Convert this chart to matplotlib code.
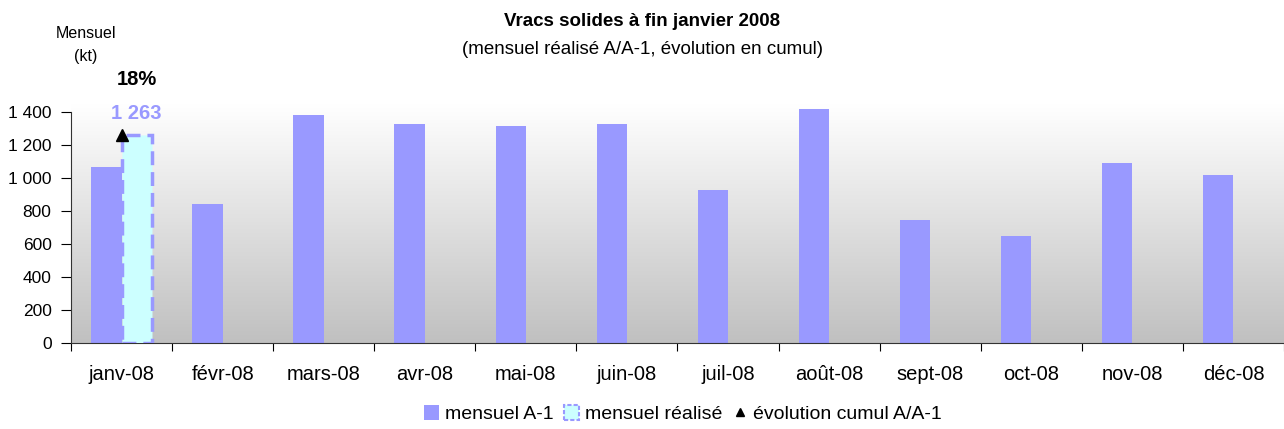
import matplotlib
matplotlib.use("Agg")
import matplotlib.pyplot as plt
import numpy as np
from matplotlib.patches import Patch
from matplotlib.lines import Line2D

plt.rcParams['font.family'] = ['Liberation Sans', 'DejaVu Sans']

months = ['janv-08', 'févr-08', 'mars-08', 'avr-08', 'mai-08', 'juin-08',
          'juil-08', 'août-08', 'sept-08', 'oct-08', 'nov-08', 'déc-08']
mensuel_a1 = [1067, 842, 1382, 1327, 1315, 1327, 927, 1418, 745, 648, 1091, 1018]
mensuel_realise = [1263]
evolution_cumul = ['18%']
yticks = [0, 200, 400, 600, 800, 1000, 1200, 1400]

blue = '#9999ff'
cyan = '#ccffff'

fig = plt.figure(figsize=(12.84, 4.29), dpi=100)
ax = fig.add_axes([71/1284, 86/429, (1284-71)/1284, 0.557])

x = np.arange(len(months))
w = 0.3
ax.set_xlim(-0.5, len(months) - 0.5)
ax.set_ylim(0, 1450)

# gradient background
grad = np.linspace(0, 1, 256).reshape(-1, 1)
cmap = matplotlib.colors.LinearSegmentedColormap.from_list('g', ['#c0c0c0', '#ffffff'])
ax.imshow(grad, extent=[-0.5, len(months) - 0.5, 0, 1450], origin='lower',
          aspect='auto', cmap=cmap, zorder=0)

ax.bar(x - w/2, mensuel_a1, width=w, color=blue, zorder=2)
xr = x[:len(mensuel_realise)]
ax.bar(xr + w/2, mensuel_realise, width=w, color=cyan, edgecolor=blue,
       linestyle=(0, (4, 2)), linewidth=2.5, zorder=3)
ax.plot(xr, mensuel_realise, marker='^', color='black', linestyle='none',
        markersize=8, zorder=4)

for xi, v in zip(xr, mensuel_realise):
    ax.text(xi + w/2, 1390, f"{v:,}".replace(',', ' '), ha='center', va='center',
            color=blue, fontsize=14.5, fontweight='bold', zorder=5, clip_on=False)
for xi, t in zip(xr, evolution_cumul):
    ax.text(xi + w/2, 1600, t, ha='center', va='center', color='black',
            fontsize=14.5, fontweight='bold', clip_on=False)

for s in ['top', 'right']:
    ax.spines[s].set_visible(False)
ax.spines['left'].set_bounds(0, 1400)
ax.spines['left'].set_color('#333333')
ax.spines['bottom'].set_color('#333333')

ax.set_yticks(yticks)
ax.set_yticklabels([f"{v:,}".replace(',', ' ') for v in yticks], fontsize=12.5)
ax.set_xticks(np.arange(len(months) + 1) - 0.5)
ax.set_xticklabels([])
ax.set_xticks(x, minor=True)
ax.set_xticklabels(months, minor=True, fontsize=14.5)
ax.tick_params(axis='x', which='major', length=6, direction='out')
ax.tick_params(axis='x', which='minor', length=0, pad=16)
ax.tick_params(axis='y', length=7, direction='out', pad=7)

fig.text(0.5, 1 - 22/429, 'Vracs solides à fin janvier 2008', ha='center', va='center',
         fontsize=13.5, fontweight='bold')
fig.text(0.5, 1 - 50/429, '(mensuel réalisé A/A-1, évolution en cumul)', ha='center',
         va='center', fontsize=13.5)
fig.text(86/1284, 1 - 33/429, 'Mensuel', ha='center', va='center', fontsize=11.5)
fig.text(86/1284, 1 - 57/429, '(kt)', ha='center', va='center', fontsize=11.5)

handles = [Patch(facecolor=blue, edgecolor='none'),
           Patch(facecolor=cyan, edgecolor=blue, linestyle=(0, (2, 1)), linewidth=1.5),
           Line2D([], [], marker='^', color='black', linestyle='none', markersize=6)]
fig.legend(handles, ['mensuel A-1', 'mensuel réalisé', 'évolution cumul A/A-1'],
           loc='center', bbox_to_anchor=(683/1284, 1 - 414/429), ncol=3,
           frameon=False, fontsize=14, handlelength=0.8, handleheight=0.8,
           handletextpad=0.3, columnspacing=0.5)

fig.savefig('out.png', dpi=100)
